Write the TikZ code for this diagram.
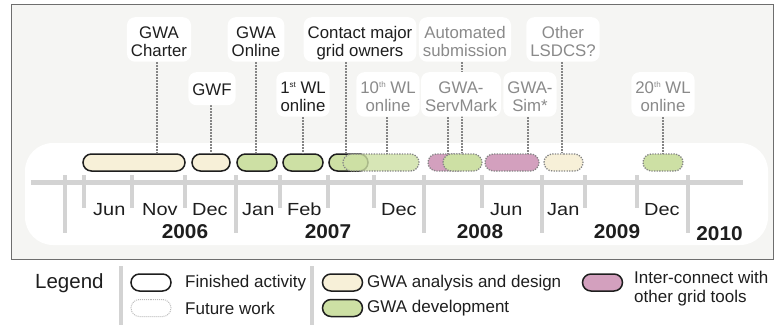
\documentclass[tikz,border=0pt]{standalone}
\usepackage{fontspec}
\setmainfont{Liberation Sans}
\usepackage{graphicx}
\usetikzlibrary{shapes.misc}

\definecolor{panel}{HTML}{F5F5F3}
\definecolor{framegray}{HTML}{6E6E6E}
\definecolor{axisgray}{HTML}{D3D3D3}
\definecolor{plan}{HTML}{F7F0D8}
\definecolor{dev}{HTML}{CDE0A4}
\definecolor{linkcol}{HTML}{D3A0BE}
\definecolor{futuretext}{HTML}{8A8A8A}
\definecolor{dotline}{HTML}{858585}
\definecolor{ink}{HTML}{1E1E1E}

\tikzset{
  pill/.style={rounded rectangle, minimum height=17pt, inner sep=0pt},
  done/.style={pill, draw=ink, line width=1.5pt},
  todo/.style={pill, draw=dotline, line width=1.3pt, dash pattern=on 1.3pt off 1.3pt},
  conn/.style={draw=dotline, line width=1.6pt, dash pattern=on 1.5pt off 1.5pt},
  lbl/.style={fill=white, rounded corners=8pt, align=center, inner xsep=4pt,
    inner ysep=4.5pt, text height=35pt, text depth=0.5pt, anchor=north,
    font=\fontsize{16.8}{18}\selectfont},
  lblone/.style={lbl, text height=14.5pt, text depth=1.5pt, inner ysep=8.5pt},
  past/.style={text=ink},
  future/.style={text=futuretext},
  tickmark/.style={draw=axisgray, line width=4pt},
  month/.style={anchor=base west, inner sep=0pt, text=ink,
    font=\fontsize{17.5}{20}\selectfont},
  year/.style={anchor=base, inner sep=0pt, text=ink,
    font=\fontsize{20}{22}\selectfont\bfseries},
  legtext/.style={anchor=west, inner sep=0pt, text=ink,
    font=\fontsize{17}{19}\selectfont},
  sep/.style={draw=axisgray, line width=4pt}
}

\newcommand{\mon}[1]{\scalebox{1.14}[1]{#1}}
\newcommand{\yr}[1]{\scalebox{1.04}[1]{#1}}
\newcommand{\ord}[1]{\raisebox{6.5pt}{\fontsize{8}{8}\selectfont#1}}

\begin{document}
\begin{tikzpicture}[x=1pt,y=-1pt]
\useasboundingbox (0,0) rectangle (774,325);

% panel and timeline band
\draw[fill=panel, draw=framegray, line width=1pt] (11,4) rectangle (773,259);
\fill[white, rounded corners=28pt] (25,143) rectangle (768,245);

% axis and ticks
\draw[draw=axisgray, line width=5pt] (31,182.5) -- (743,182.5);
\foreach \x in {65,236,424,542,688}
  \draw[tickmark] (\x,175) -- (\x,233);
\foreach \x in {84,132,185,280,328,374,482,585,637}
  \draw[tickmark] (\x,175) -- (\x,208);

% month labels
\node[month] (mJun6) at (93,215) {\mon{Jun}};
\node[month] (mNov6) at (142,215) {\mon{Nov}};
\node[month] (mDec6) at (192,215) {\mon{Dec}};
\node[month] (mJan7) at (242,215) {\mon{Jan}};
\node[month] (mFeb7) at (287,215) {\mon{Feb}};
\node[month] (mDec7) at (381,215) {\mon{Dec}};
\node[month] (mJun8) at (490,215) {\mon{Jun}};
\node[month] (mJan9) at (547,215) {\mon{Jan}};
\node[month] (mDec9) at (644,215) {\mon{Dec}};

% year labels
\node[year] (y2006) at (185,238) {\yr{2006}};
\node[year] (y2007) at (328,238) {\yr{2007}};
\node[year] (y2008) at (480,238) {\yr{2008}};
\node[year] (y2009) at (617,238) {\yr{2009}};
\node[year] (y2010) at (719.5,240) {\yr{2010}};

% activity pills
\node[done, fill=plan, minimum width=102pt] (p1) at (134,162.5) {};
\node[done, fill=plan, minimum width=38pt] (p2) at (211,162.5) {};
\node[done, fill=dev, minimum width=40pt] (p3) at (257,162.5) {};
\node[done, fill=dev, minimum width=40pt] (p4) at (303,162.5) {};
\node[done, fill=dev, minimum width=39pt] (p5) at (348.5,162.5) {};
\node[todo, fill=dev, fill opacity=0.8, minimum width=76pt] (p6) at (381,162.5) {};
\node[todo, fill=linkcol, minimum width=40pt] (p7) at (448,162.5) {};
\node[todo, fill=dev, minimum width=39pt] (p8) at (462.5,162.5) {};
\node[todo, fill=linkcol, minimum width=54pt] (p9) at (512,162.5) {};
\node[todo, fill=plan, minimum width=39pt] (p10) at (563.5,162.5) {};
\node[todo, fill=dev, minimum width=40pt] (p11) at (663,162.5) {};

% x positions of the connectors, and the tops of the two label rows
\coordinate (k1) at (157,0);
\coordinate (k2) at (211,0);
\coordinate (k3) at (256,0);
\coordinate (k4) at (303,0);
\coordinate (k5) at (346,0);
\coordinate (k6) at (387,0);
\coordinate (k7) at (462,0);
\coordinate (k8) at (448,0);
\coordinate (k9) at (528,0);
\coordinate (k10) at (562,0);
\coordinate (k11) at (663,0);
\coordinate (r1) at (0,17);
\coordinate (r2) at (0,72);

% connectors (drawn beneath the label boxes)
\draw[conn] (k1 |- r1) -- (k1 |- p1.north);
\draw[conn] (k2 |- r2) -- (k2 |- p2.north);
\draw[conn] (k3 |- r1) -- (k3 |- p3.north);
\draw[conn] (k4 |- r2) -- (k4 |- p4.north);
\draw[conn] (k5 |- r1) -- (k5 |- p5.north);
\draw[conn] (k6 |- r2) -- (k6 |- p6.north);
\draw[conn] (k7 |- r1) -- (k7 |- p7.north);
\draw[conn] (k8 |- r2) -- (k8 |- p8.north);
\draw[conn] (k9 |- r2) -- (k9 |- p9.north);
\draw[conn] (k10 |- r1) -- (k10 |- p10.north);
\draw[conn] (k11 |- r2) -- (k11 |- p11.north);

% top row labels
\node[lbl, past] (lCharter) at (159,17) {GWA\\Charter};
\node[lbl, past] (lOnline) at (256,17) {GWA\\Online};
\node[lbl, past] (lContact) at (360,17) {Contact major\\grid owners};
\node[lbl, future] (lAuto) at (465,17) {Automated\\submission};
\node[lbl, future] (lOther) at (563,17) {Other\\LSDCS?};
% second row labels
\node[lblone, past] (lGWF) at (212,72) {GWF};
\node[lbl, past] (lFirst) at (303,72) {1\ord{st} WL\\online};
\node[lbl, future] (lTenth) at (388,72) {10\ord{th} WL\\online};
\node[lbl, future] (lServ) at (461,72) {GWA-\\ServMark};
\node[lbl, future] (lSim) at (530,72) {GWA-\\Sim*};
\node[lbl, future] (lTwenty) at (663,72) {20\ord{th} WL\\online};

% legend
\node[anchor=west, inner sep=0pt, text=ink, font=\fontsize{20.5}{22}\selectfont] (legend) at (35,283) {Legend};
\draw[sep] (121,266) -- (121,325);
\draw[sep] (312,266) -- (312,325);
\node[done, fill=white, minimum width=40pt] (kFin) at (151,282.5) {};
\node[legtext] (tFin) at (185,283) {Finished activity};
\node[todo, draw=dotline!55, line width=1pt, dash pattern=on 1pt off 1pt, minimum width=40pt] (kFut) at (151,308) {};
\node[legtext] (tFut) at (185,308) {Future work};
\node[done, fill=plan, minimum width=40pt] (kPlan) at (342.5,282.5) {};
\node[legtext] (tPlan) at (367,283) {GWA analysis and design};
\node[done, fill=dev, minimum width=40pt] (kDev) at (342.5,308) {};
\node[legtext] (tDev) at (367,308) {GWA development};
\node[done, fill=linkcol, minimum width=40pt] (kLink) at (602.5,282.5) {};
\node[legtext, anchor=north west, align=left] (tLink) at (634,271) {Inter-connect with\\other grid tools};
\end{tikzpicture}
\end{document}
